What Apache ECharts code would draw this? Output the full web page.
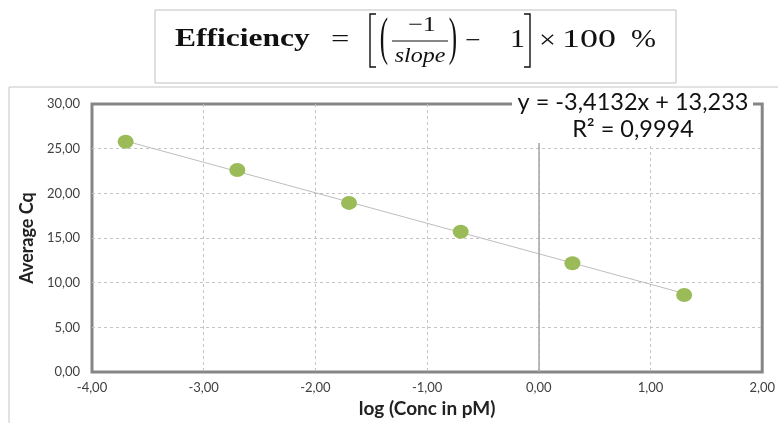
<!DOCTYPE html>
<html>
<head>
<meta charset="utf-8">
<script src="https://cdn.jsdelivr.net/npm/echarts@6/dist/echarts.min.js"></script>
<style>
  html, body { margin: 0; padding: 0; background: #ffffff; }
  #chart { width: 778px; height: 423px; }
</style>
</head>
<body>
<div id="chart"></div>
<script>
// Standard curve: log10 of concentration (pM) against mean Cq
var logConc = [-3.699, -2.699, -1.699, -0.699, 0.301, 1.301];
var averageCq = [25.78, 22.62, 18.93, 15.70, 12.18, 8.62];

// Linear trendline reported on the chart
var slope = -3.4132;
var intercept = 13.233;
var rSquared = '0,9994';

var xTicks = { min: -4, max: 2, step: 1 };
var yTicks = { min: 0, max: 30, step: 5 };

function comma(v) { return v.toFixed(2).replace('.', ','); }
function comma4(v) { return v.toFixed(4).replace('.', ','); }

var points = logConc.map(function (x, i) { return [x, averageCq[i]]; });
var xFirst = logConc[0], xLast = logConc[logConc.length - 1];
var trend = [[xFirst, slope * xFirst + intercept], [xLast, slope * xLast + intercept]];

var eqText = 'y = ' + comma4(slope) + 'x + ' + intercept.toFixed(3).replace('.', ',');

var chart = echarts.init(document.getElementById('chart'), null, { renderer: 'canvas' });

var labelFont = 'Lato, "Open Sans", sans-serif';
var serif = '"Liberation Serif", "DejaVu Serif", serif';

// one glyph run of the efficiency formula
function ftxt(x, y, text, size, opts) {
  opts = opts || {};
  return {
    type: 'text', x: x, y: y, scaleX: opts.sx || 1, scaleY: opts.sy || 1, z: 20,
    style: {
      text: text,
      font: (opts.style || '') + ' ' + (opts.weight || 'normal') + ' ' + size + 'px ' + serif,
      fill: '#111111',
      textAlign: opts.align || 'left',
      textVerticalAlign: 'middle'
    }
  };
}
function bracket(x, top, bottom, dir) {
  var w = 6 * dir;
  return {
    type: 'polyline', z: 20,
    shape: { points: [[x + w, top], [x, top], [x, bottom], [x + w, bottom]] },
    style: { stroke: '#111111', lineWidth: 1.4, fill: 'none' }
  };
}

chart.setOption({
  animation: false,
  grid: {
    left: 92, right: 11, top: 104, bottom: 48,
    show: true, borderColor: '#868686', borderWidth: 3, backgroundColor: 'transparent'
  },
  xAxis: {
    type: 'value', min: xTicks.min, max: xTicks.max, interval: xTicks.step,
    name: 'log (Conc in pM)', nameLocation: 'middle', nameGap: 27,
    nameTextStyle: { fontFamily: labelFont, fontWeight: 'bold', fontSize: 19, color: '#222' },
    axisLine: { show: false },
    axisTick: { show: false },
    axisLabel: { formatter: comma, fontFamily: labelFont, fontSize: 13, color: '#404040', margin: 9 },
    splitLine: { showMinLine: false, showMaxLine: false,
                 lineStyle: { type: [3, 3], color: '#c4c4c4', width: 1 } }
  },
  yAxis: {
    type: 'value', min: yTicks.min, max: yTicks.max, interval: yTicks.step,
    name: 'Average Cq', nameLocation: 'middle', nameGap: 54,
    nameTextStyle: { fontFamily: labelFont, fontWeight: 'bold', fontSize: 18, color: '#222' },
    axisLine: { show: false },
    axisTick: { show: false },
    axisLabel: { formatter: comma, fontFamily: labelFont, fontSize: 13, color: '#404040', margin: 12 },
    splitLine: { showMinLine: false, showMaxLine: false,
                 lineStyle: { type: [3, 3], color: '#c4c4c4', width: 1 } }
  },
  series: [
    {
      type: 'line', data: trend, symbol: 'none', silent: true, z: 2,
      lineStyle: { color: '#bdbdbd', width: 1 },
      markLine: {
        silent: true, symbol: 'none', label: { show: false },
        lineStyle: { color: '#a6a6a6', width: 1.5, type: 'solid' },
        data: [{ xAxis: 0 }]
      }
    },
    {
      type: 'scatter', data: points, symbol: 'circle', symbolSize: [16, 14], z: 5,
      itemStyle: { color: '#9bbb59', opacity: 1 }
    }
  ],
  graphic: [
    // outer chart frame
    { type: 'rect', shape: { x: 9, y: 87, width: 800, height: 400 }, z: 0,
      style: { fill: 'none', stroke: '#c6c6c6', lineWidth: 1 } },
    // efficiency formula panel
    { type: 'rect', shape: { x: 155, y: 10, width: 521, height: 73 }, z: 10,
      style: { fill: '#ffffff', stroke: '#c0c0c0', lineWidth: 1 } },
    ftxt(175, 40, 'Efficiency', 25, { weight: 'bold', sx: 1.26 }),
    ftxt(331, 40, '=', 25, { sx: 1.3 }),
    bracket(370, 14, 67, 1),
    ftxt(384, 40, '(', 25, { align: 'center', sy: 2.1 }),
    ftxt(422, 25, '\u22121', 21, { align: 'center', sx: 1.25 }),
    { type: 'line', shape: { x1: 392, y1: 41, x2: 448, y2: 41 }, z: 20,
      style: { stroke: '#111', lineWidth: 1.1 } },
    ftxt(420, 57, 'slope', 20, { style: 'italic', align: 'center', sx: 1.2 }),
    ftxt(453, 40, ')', 25, { align: 'center', sy: 2.1 }),
    ftxt(465, 41, '\u2212', 25, { sx: 1.1 }),
    ftxt(510, 40, '1', 25, { sx: 1.2 }),
    bracket(530, 14, 67, -1),
    ftxt(539, 41, '\u00d7', 25, { sx: 1.2 }),
    ftxt(562, 40, '100', 25, { sx: 1.44 }),
    ftxt(631, 40, '%', 25, { sx: 1.2 }),
    // trendline equation
    { type: 'rect', shape: { x: 512, y: 90, width: 241, height: 53 }, z: 10,
      style: { fill: '#ffffff' } },
    { type: 'text', x: 633, y: 102, z: 11,
      style: { text: eqText, font: 'normal 23.5px ' + labelFont, fill: '#111',
               textAlign: 'center', textVerticalAlign: 'middle' } },
    { type: 'text', x: 633, y: 129, z: 11,
      style: { text: 'R\u00b2 = ' + rSquared, font: 'normal 23.5px ' + labelFont, fill: '#111',
               textAlign: 'center', textVerticalAlign: 'middle' } }
  ]
});
</script>
</body>
</html>
